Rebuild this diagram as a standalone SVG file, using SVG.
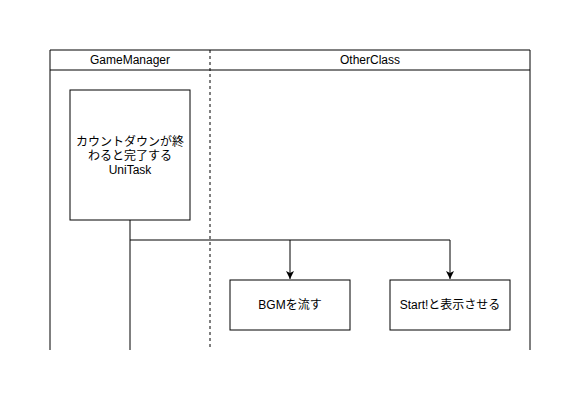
<svg xmlns="http://www.w3.org/2000/svg" width="582" height="402" viewBox="0 0 582 402">
<style>
.ln{fill:none;stroke:#000;stroke-width:1}
.box{fill:#fff;stroke:#000;stroke-width:1}
.t{font-family:"Liberation Sans","Noto Sans CJK JP",sans-serif;font-size:12px;fill:#000;text-anchor:middle}
</style>
<defs>
<marker id="ah" markerWidth="10" markerHeight="10" refX="8" refY="5" orient="auto" markerUnits="userSpaceOnUse">
<path d="M0,1 L8,5 L0,9 L2,5 Z" fill="#000"/>
</marker>
</defs>
<rect width="582" height="402" fill="#fff"/>
<g id="pool">
<path class="ln" d="M50,350 V50 H530 V350"/>
<path class="ln" d="M50,70 H530"/>
<path class="ln" d="M210,50 V350" stroke-dasharray="3,3"/>
<text class="t" x="130" y="64">GameManager</text>
<text class="t" x="370" y="64">OtherClass</text>
</g>
<g id="connectors">
<path class="ln" d="M130,220 V350"/>
<path class="ln" d="M130,240 H450"/>
<path class="ln" d="M290,240 V279" marker-end="url(#ah)"/>
<path class="ln" d="M450,240 V279" marker-end="url(#ah)"/>
</g>
<g id="unitask">
<rect class="box" x="70" y="90" width="120" height="130"/>
<text class="t" x="130" y="146">カウントダウンが終</text>
<text class="t" x="130" y="160">わると完了する</text>
<text class="t" x="130" y="174">UniTask</text>
</g>
<g id="bgm">
<rect class="box" x="230" y="280" width="120" height="50"/>
<text class="t" x="290" y="309">BGMを流す</text>
</g>
<g id="start">
<rect class="box" x="390" y="280" width="120" height="50"/>
<text class="t" x="450" y="309">Start!と表示させる</text>
</g>
</svg>
